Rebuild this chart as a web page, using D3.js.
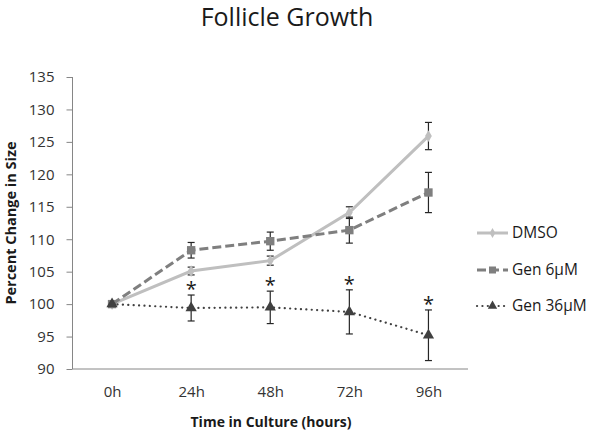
<!DOCTYPE html>
<html>
<head>
<meta charset="utf-8">
<script src="https://cdn.jsdelivr.net/npm/d3@7"></script>
<style>
  html, body { margin: 0; padding: 0; background: #fff; }
  svg { display: block; }
  text { font-family: "Open Sans", "Noto Sans", sans-serif; }
</style>
</head>
<body>
<div id="chart"></div>
<script>
// ---- data ----
const categories = ["0h", "24h", "48h", "72h", "96h"];
const seriesNames = ["DMSO", "Gen 6\u03bcM", "Gen 36\u03bcM"];
const dmsoValues  = [100, 105.1, 106.7, 114.1, 125.9];
const dmsoErrors  = [0, 0.6, 0.7, 0.9, 2.1];
const gen6Values  = [100, 108.3, 109.7, 111.4, 117.2];
const gen6Errors  = [0, 1.2, 1.4, 2.0, 3.1];
const gen36Values = [100, 99.4, 99.5, 98.8, 95.2];
const gen36Errors = [0, 2.0, 2.5, 3.4, 3.9];
const significant = [false, true, true, true, true];
const yTicks = [90, 95, 100, 105, 110, 115, 120, 125, 130, 135];

const W = 601, H = 434;
const svg = d3.select("#chart").append("svg").attr("width", W).attr("height", H);

const x = d3.scalePoint().domain(categories).range([72.5, 468]).padding(0.5);
const y = d3.scaleLinear().domain([90, 135]).range([369, 77]);

// title
svg.append("text").attr("x", 287).attr("y", 26).attr("text-anchor", "middle")
  .attr("font-size", 25).attr("fill", "#1a1a1a").text("Follicle Growth");

// y axis
const yAxis = d3.axisLeft(y).tickValues(yTicks).tickSize(6).tickPadding(12).tickFormat(d3.format("d"));
const gy = svg.append("g").attr("transform", "translate(72.5,0)").call(yAxis);
gy.select(".domain").attr("stroke", "#868686").attr("d", "M0,77V369");
gy.selectAll(".tick line").attr("stroke", "#868686");
gy.selectAll(".tick text").attr("font-size", 15).attr("fill", "#333")
  .attr("font-family", "'Open Sans', sans-serif");

// x axis
const xAxis = d3.axisBottom(x).tickSize(0).tickPadding(17);
const gx = svg.append("g").attr("transform", "translate(0,369)").call(xAxis);
gx.select(".domain").attr("stroke", "#868686").attr("d", "M72.5,0H468");
gx.selectAll(".tick text").attr("font-size", 15).attr("fill", "#333")
  .attr("font-family", "'Open Sans', sans-serif");

// axis titles
svg.append("text").attr("x", 271).attr("y", 427).attr("text-anchor", "middle")
  .attr("font-size", 14).attr("font-weight", "bold").attr("fill", "#1a1a1a")
  .text("Time in Culture (hours)");
svg.append("text").attr("transform", "translate(16,223) rotate(-90)").attr("text-anchor", "middle")
  .attr("font-size", 14.5).attr("font-weight", "bold").attr("fill", "#1a1a1a")
  .text("Percent Change in Size");

const series = [
  { name: seriesNames[0], values: dmsoValues, errors: dmsoErrors, color: "#bfbfbf", width: 3, dash: null, cap: "butt", marker: d3.symbolDiamond, msize: 40, mcolor: "#bfbfbf" },
  { name: seriesNames[1], values: gen6Values, errors: gen6Errors, color: "#7f7f7f", width: 3, dash: "9,4", cap: "butt", marker: d3.symbolSquare, msize: 70, mcolor: "#7f7f7f" },
  { name: seriesNames[2], values: gen36Values, errors: gen36Errors, color: "#404040", width: 2.2, dash: "0.1,5.3", cap: "round", marker: d3.symbolTriangle, msize: 55, mcolor: "#404040" }
];

const line = d3.line().x((d, i) => x(categories[i])).y(d => y(d));

series.forEach(s => {
  const g = svg.append("g");
  // error bars
  s.values.forEach((v, i) => {
    const e = s.errors[i];
    if (!e) return;
    const cx = x(categories[i]);
    const eg = g.append("g").attr("stroke", "#262626").attr("stroke-width", 1.2);
    eg.append("line").attr("x1", cx).attr("x2", cx).attr("y1", y(v + e)).attr("y2", y(v - e));
    eg.append("line").attr("x1", cx - 3.5).attr("x2", cx + 3.5).attr("y1", y(v + e)).attr("y2", y(v + e));
    eg.append("line").attr("x1", cx - 3.5).attr("x2", cx + 3.5).attr("y1", y(v - e)).attr("y2", y(v - e));
  });
  g.append("path").datum(s.values).attr("d", line).attr("fill", "none")
    .attr("stroke", s.color).attr("stroke-width", s.width)
    .attr("stroke-dasharray", s.dash).attr("stroke-linecap", s.cap);
  g.selectAll("path.m").data(s.values).join("path").attr("class", "m")
    .attr("transform", (d, i) => `translate(${x(categories[i])},${y(d)})`)
    .attr("d", d3.symbol().type(s.marker).size(s.msize))
    .attr("fill", s.mcolor);
});

// significance asterisks
gen36Values.forEach((v, i) => {
  if (!significant[i]) return;
  svg.append("text").attr("x", x(categories[i])).attr("y", y(v + gen36Errors[i]) + 1)
    .attr("text-anchor", "middle").attr("font-size", 20).attr("fill", "#1a1a1a").text("*");
});

// legend
const legY = [233, 270, 306];
series.forEach((s, i) => {
  const lg = svg.append("g").attr("transform", `translate(0,${legY[i]})`);
  lg.append("line").attr("x1", 477).attr("x2", 508).attr("y1", 0).attr("y2", 0)
    .attr("stroke", s.color).attr("stroke-width", s.width)
    .attr("stroke-dasharray", s.dash).attr("stroke-linecap", s.cap);
  lg.append("path").attr("transform", "translate(492.5,0)")
    .attr("d", d3.symbol().type(s.marker).size(s.msize * 0.7)).attr("fill", s.mcolor);
  lg.append("text").attr("x", 512).attr("y", 0).attr("dy", "0.35em")
    .attr("font-size", 15.5).attr("fill", "#1a1a1a").text(s.name);
});
</script>
</body>
</html>
